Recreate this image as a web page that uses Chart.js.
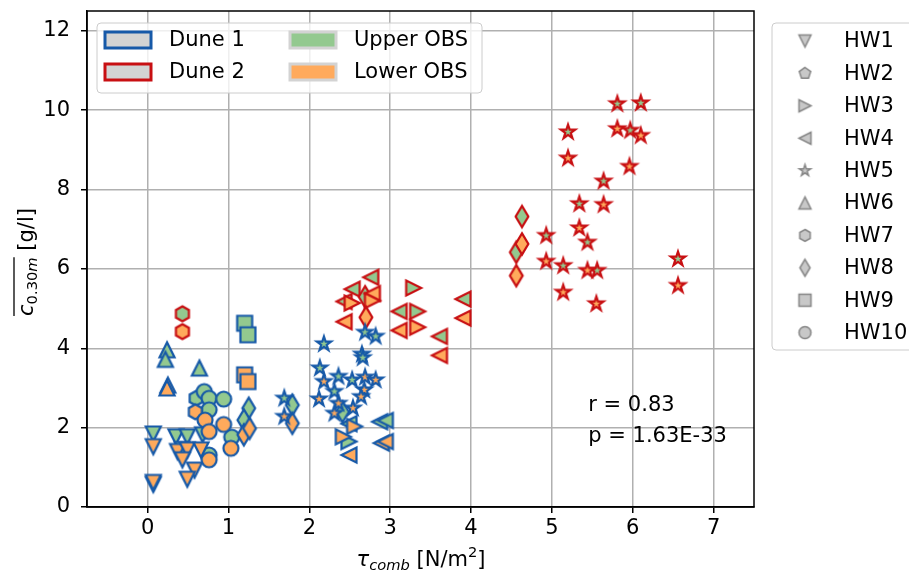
<!DOCTYPE html>
<html>
<head>
<meta charset="utf-8">
<script src="https://cdn.jsdelivr.net/npm/chart.js@4.4.1/dist/chart.umd.min.js"></script>
<style>
  html, body { margin: 0; background: #fff; }
</style>
</head>
<body>
<canvas id="chart" width="909" height="577"></canvas>
<script>
const hwLabels = ['HW1', 'HW2', 'HW3', 'HW4', 'HW5', 'HW6', 'HW7', 'HW8', 'HW9', 'HW10'];
const xTicks = [0, 1, 2, 3, 4, 5, 6, 7];
const yTicks = [0, 2, 4, 6, 8, 10, 12];

// rows are [HW number, tau_comb, mean c 0.30m]
const dune1Upper = [
  [1, 0.07, 1.84], [1, 0.35, 1.77], [1, 0.49, 1.77], [1, 0.43, 1.45], [1, 0.68, 1.82], [1, 0.07, 0.57],
  [6, 0.24, 3.96], [6, 0.22, 3.72], [6, 0.64, 3.50],
  [7, 0.60, 2.74],
  [9, 1.20, 4.63], [9, 1.24, 4.34],
  [10, 0.70, 2.91], [10, 0.76, 2.74], [10, 0.94, 2.72], [10, 0.76, 2.45], [10, 1.04, 1.76], [10, 0.76, 1.31],
  [8, 1.25, 2.49], [8, 1.19, 2.19], [8, 1.79, 2.57], [8, 2.41, 2.40],
  [5, 1.69, 2.74], [5, 2.18, 4.11], [5, 2.69, 4.40], [5, 2.82, 4.30], [5, 2.65, 3.85], [5, 2.66, 3.76],
  [5, 2.13, 3.50], [5, 2.36, 3.29], [5, 2.53, 3.20], [5, 2.31, 2.91],
  [4, 2.87, 2.15], [4, 2.94, 2.18], [4, 2.49, 2.10],
  [3, 2.49, 1.65]
];
const dune1Lower = [
  [1, 0.07, 1.52], [1, 0.37, 1.40], [1, 0.49, 1.44], [1, 0.43, 1.19], [1, 0.66, 1.44], [1, 0.58, 0.93],
  [1, 0.49, 0.70], [1, 0.07, 0.62],
  [6, 0.25, 3.07], [6, 0.24, 3.00],
  [7, 0.59, 2.40],
  [9, 1.20, 3.33], [9, 1.24, 3.16],
  [10, 0.71, 2.19], [10, 0.94, 2.08], [10, 0.76, 1.90], [10, 1.03, 1.48], [10, 0.76, 1.19],
  [8, 1.19, 1.82], [8, 1.26, 1.98], [8, 1.79, 2.11],
  [5, 1.69, 2.28], [5, 2.18, 3.16], [5, 2.69, 3.27], [5, 2.82, 3.20], [5, 2.68, 2.95], [5, 2.12, 2.72],
  [5, 2.36, 2.61], [5, 2.54, 2.49], [5, 2.31, 2.36], [5, 2.64, 2.78],
  [4, 2.89, 1.61], [4, 2.94, 1.65], [4, 2.49, 1.31],
  [3, 2.42, 1.77], [3, 2.56, 2.03]
];
const dune2Upper = [
  [7, 0.43, 4.87],
  [4, 2.76, 5.79], [4, 2.53, 5.49], [4, 2.43, 5.18], [4, 3.11, 4.93], [4, 3.61, 4.30], [4, 3.90, 5.24],
  [3, 3.29, 5.52], [3, 3.34, 4.93],
  [8, 2.69, 5.30], [8, 4.63, 7.32], [8, 4.56, 6.42],
  [5, 5.81, 10.16], [5, 6.10, 10.18], [5, 5.20, 9.45], [5, 5.97, 9.49], [5, 5.64, 8.21], [5, 5.34, 7.64],
  [5, 5.44, 6.67], [5, 4.93, 6.84], [5, 5.14, 6.08], [5, 5.56, 5.96], [5, 6.56, 6.25]
];
const dune2Lower = [
  [7, 0.43, 4.42],
  [4, 2.78, 5.38], [4, 2.43, 4.67], [4, 3.11, 4.45], [4, 3.61, 3.82], [4, 3.90, 4.76],
  [3, 2.53, 5.14], [3, 3.34, 4.53], [3, 2.78, 5.20],
  [8, 2.70, 4.78], [8, 4.63, 6.63], [8, 4.56, 5.83],
  [5, 5.81, 9.53], [5, 6.10, 9.36], [5, 5.20, 8.79], [5, 5.96, 8.58], [5, 5.64, 7.62], [5, 5.34, 7.03],
  [5, 4.93, 6.19], [5, 5.44, 5.96], [5, 5.14, 5.41], [5, 5.55, 5.12], [5, 6.56, 5.58]
];
const statLines = ['r = 0.83', 'p = 1.63E-33'];
const statPos = [5.45, 2.55, 1.77];

const BLUE = '#1659a8';
const RED = '#c80f12';
const GREEN = '#93c98f';
const ORANGE = '#ffaa5c';
const FONT = '"DejaVu Sans", sans-serif';
const FS = 21;

const shapes = ['triDown', 'pentagon', 'triRight', 'triLeft', 'star', 'triUp', 'hexagon', 'thinDiamond', 'square', 'circle'];

function polygon(g, n, r, inner) {
  const k = inner ? 2 * n : n;
  for (let i = 0; i < k; i++) {
    const rr = inner && i % 2 ? r * inner : r;
    const a = -Math.PI / 2 + i * 2 * Math.PI / k;
    const px = rr * Math.cos(a), py = rr * Math.sin(a);
    if (i === 0) g.moveTo(px, py); else g.lineTo(px, py);
  }
  g.closePath();
}

function tracePath(g, shape, s) {
  const r = s / 2;
  switch (shape) {
    case 'triDown': g.moveTo(0, r); g.lineTo(-r, -r); g.lineTo(r, -r); g.closePath(); break;
    case 'triUp': g.moveTo(0, -r); g.lineTo(-r, r); g.lineTo(r, r); g.closePath(); break;
    case 'triRight': g.moveTo(r, 0); g.lineTo(-r, -r); g.lineTo(-r, r); g.closePath(); break;
    case 'triLeft': g.moveTo(-r, 0); g.lineTo(r, -r); g.lineTo(r, r); g.closePath(); break;
    case 'pentagon': polygon(g, 5, r); break;
    case 'hexagon': polygon(g, 6, r); break;
    case 'star': polygon(g, 5, r, 0.381966); break;
    case 'thinDiamond': {
      const h = s * 0.7071, w = h * 0.6;
      g.moveTo(0, -h); g.lineTo(w, 0); g.lineTo(0, h); g.lineTo(-w, 0); g.closePath(); break;
    }
    case 'square': g.rect(-r, -r, s, s); break;
    default: g.arc(0, 0, r, 0, Math.PI * 2);
  }
}

const markerCache = {};
function marker(hw, edge, fill, s, lw) {
  const key = [hw, edge, fill, s, lw].join('|');
  if (markerCache[key]) return markerCache[key];
  const shape = shapes[hw - 1];
  const span = shape === 'thinDiamond' ? s * 1.42 : s;
  const size = Math.ceil(span + 2 * lw + 4);
  const cv = document.createElement('canvas');
  cv.width = size;
  cv.height = size;
  const g = cv.getContext('2d');
  g.translate(size / 2, size / 2);
  g.beginPath();
  tracePath(g, shape, s);
  g.fillStyle = fill;
  g.fill();
  g.lineWidth = lw;
  g.lineJoin = 'miter';
  g.strokeStyle = edge;
  g.stroke();
  markerCache[key] = cv;
  return cv;
}

const groups = [
  { rows: dune1Lower, edge: BLUE, fill: ORANGE },
  { rows: dune1Upper, edge: BLUE, fill: GREEN },
  { rows: dune2Lower, edge: RED, fill: ORANGE },
  { rows: dune2Upper, edge: RED, fill: GREEN }
];

function richText(ctx, parts, x, y) {
  // parts: [text, size, italic, dy]
  for (const [t, size, italic, dy] of parts) {
    ctx.font = (italic ? 'italic ' : '') + size + 'px ' + FONT;
    ctx.fillText(t, x, y + dy);
    x += ctx.measureText(t).width;
  }
  return x;
}
function richWidth(ctx, parts) {
  let w = 0;
  for (const [t, size, italic] of parts) {
    ctx.font = (italic ? 'italic ' : '') + size + 'px ' + FONT;
    w += ctx.measureText(t).width;
  }
  return w;
}

function roundBox(ctx, x, y, w, h, r) {
  ctx.beginPath();
  ctx.roundRect(x, y, w, h, r);
  ctx.fillStyle = 'rgba(255,255,255,0.8)';
  ctx.fill();
  ctx.lineWidth = 1;
  ctx.strokeStyle = '#cccccc';
  ctx.stroke();
}

const decorations = {
  id: 'decorations',
  afterDatasetsDraw(chart) {
    const ctx = chart.ctx;
    const a = chart.chartArea;
    const xs = chart.scales.x, ys = chart.scales.y;
    ctx.save();

    // axes frame
    ctx.strokeStyle = '#000';
    ctx.lineWidth = 1.5;
    ctx.strokeRect(a.left, a.top, a.right - a.left, a.bottom - a.top);

    // correlation text
    ctx.fillStyle = '#000';
    ctx.font = FS + 'px ' + FONT;
    ctx.textBaseline = 'middle';
    ctx.textAlign = 'left';
    ctx.fillText(statLines[0], xs.getPixelForValue(statPos[0]), ys.getPixelForValue(statPos[1]));
    ctx.fillText(statLines[1], xs.getPixelForValue(statPos[0]), ys.getPixelForValue(statPos[2]));

    // x title
    ctx.textBaseline = 'alphabetic';
    const xParts = [['τ', FS, true, 0], ['comb', FS * 0.7, true, 4], [' [N/m', FS, false, 0], ['2', FS * 0.7, false, -9], [']', FS, false, 0]];
    const xw = richWidth(ctx, xParts);
    richText(ctx, xParts, 421 - xw / 2, 566);

    // y title, rotated
    ctx.save();
    ctx.translate(33, 262);
    ctx.rotate(-Math.PI / 2);
    const cParts = [['c', FS, true, 0], ['0.30', FS * 0.7, false, 4], ['m', FS * 0.7, true, 4]];
    const rest = [[' [g/l]', FS, false, 0]];
    const cw = richWidth(ctx, cParts);
    const tw = cw + richWidth(ctx, rest);
    const x0 = -tw / 2;
    const x1 = richText(ctx, cParts, x0, 0);
    richText(ctx, rest, x1, 0);
    ctx.beginPath();
    ctx.moveTo(x0, -19);
    ctx.lineTo(x0 + cw, -19);
    ctx.lineWidth = 1.3;
    ctx.strokeStyle = '#000';
    ctx.stroke();
    ctx.restore();

    // dune / OBS legend
    roundBox(ctx, 97, 23, 385, 70, 4);
    ctx.font = FS + 'px ' + FONT;
    ctx.textBaseline = 'middle';
    const patches = [
      [105, 32, '#d3d3d3', BLUE, 'Dune 1'],
      [105, 64, '#d3d3d3', RED, 'Dune 2'],
      [290, 32, GREEN, '#d3d3d3', 'Upper OBS'],
      [290, 64, ORANGE, '#d3d3d3', 'Lower OBS']
    ];
    for (const [px, py, fill, edge, label] of patches) {
      ctx.fillStyle = fill;
      ctx.fillRect(px, py, 46, 16);
      ctx.lineWidth = 3;
      ctx.strokeStyle = edge;
      ctx.strokeRect(px, py, 46, 16);
      ctx.fillStyle = '#000';
      ctx.fillText(label, px + 64, py + 9);
    }

    // HW legend
    roundBox(ctx, 772, 23, 150, 327, 4);
    hwLabels.forEach((label, i) => {
      const cy = 41 + i * 32.4;
      const m = marker(i + 1, '#858585', '#c8c8c8', 12, 1.5);
      ctx.drawImage(m, 805 - m.width / 2, cy - m.height / 2);
      ctx.fillStyle = '#000';
      ctx.fillText(label, 844, cy + 1);
    });
    ctx.restore();
  }
};

new Chart(document.getElementById('chart'), {
  type: 'scatter',
  data: {
    datasets: groups.map(g => ({
      data: g.rows.map(([hw, x, y]) => ({ x, y, hw })),
      pointStyle: c => marker(c.raw ? c.raw.hw : 10, g.edge, g.fill, 15, 2.2),
      pointRadius: 8,
      pointHoverRadius: 8
    }))
  },
  options: {
    responsive: false,
    animation: false,
    devicePixelRatio: 1,
    layout: { padding: { top: 11, right: 155, left: 0, bottom: 0 } },
    plugins: { legend: { display: false }, tooltip: { enabled: false } },
    scales: {
      x: {
        type: 'linear',
        min: -0.75,
        max: 7.5,
        afterBuildTicks: s => { s.ticks = xTicks.map(v => ({ value: v })); },
        afterFit: s => { s.height = 70; s.paddingLeft = 0; s.paddingRight = 0; },
        ticks: { color: '#000', font: { family: FONT, size: FS }, padding: 3 },
        grid: { color: '#b0b0b0', lineWidth: 1.5, tickColor: '#000', tickLength: 6, tickWidth: 1.5 },
        border: { color: '#000', width: 1.5 }
      },
      y: {
        min: 0,
        max: 12.5,
        afterBuildTicks: s => { s.ticks = yTicks.map(v => ({ value: v })); },
        afterFit: s => { s.width = 87; s.paddingTop = 0; s.paddingBottom = 0; },
        ticks: { color: '#000', font: { family: FONT, size: FS }, padding: 11 },
        grid: { color: '#b0b0b0', lineWidth: 1.5, tickColor: '#000', tickLength: 6, tickWidth: 1.5 },
        border: { color: '#000', width: 1.5 }
      }
    }
  },
  plugins: [decorations]
});
</script>
</body>
</html>
